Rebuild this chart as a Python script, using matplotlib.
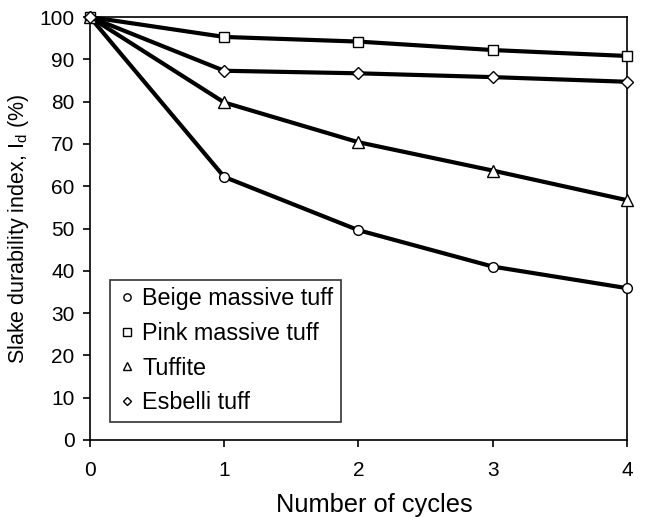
import matplotlib
matplotlib.use("Agg")
import matplotlib.pyplot as plt

plt.rcParams['font.family'] = ['Liberation Sans', 'DejaVu Sans']
plt.rcParams['mathtext.fontset'] = 'custom'
plt.rcParams['mathtext.rm'] = 'Liberation Sans'

cycles = [0, 1, 2, 3, 4]
beige = [100, 62.2, 49.6, 41.0, 35.9]
pink = [100, 95.3, 94.2, 92.2, 90.8]
tuffite = [100, 79.8, 70.4, 63.7, 56.7]
esbelli = [100, 87.3, 86.7, 85.8, 84.7]
labels = ['Beige massive tuff', 'Pink massive tuff', 'Tuffite', 'Esbelli tuff']
markers = ['o', 's', '^', 'D']

fig = plt.figure(figsize=(6.45, 5.17), dpi=100)
ax = fig.add_axes([0.1395, 0.149, 0.8325, 0.818])

sizes = [7, 7, 8, 6]
for ys, lab, m, s in zip([beige, pink, tuffite, esbelli], labels, markers, sizes):
    ax.plot(cycles, ys, color='black', lw=3, marker=m, markersize=s,
            markerfacecolor='white', markeredgecolor='black', markeredgewidth=1.0,
            label=lab, clip_on=False, zorder=3)

ax.set_xlim(0, 4)
ax.set_ylim(0, 100)
ax.set_xticks([0, 1, 2, 3, 4])
ax.set_yticks(range(0, 101, 10))
ax.tick_params(direction='out', length=5, width=1.2, labelsize=15, top=False, right=False)
ax.tick_params(axis='x', pad=10)
ax.tick_params(axis='y', pad=6)
for sp in ax.spines.values():
    sp.set_linewidth(1.2)
ax.set_xlabel('Number of cycles', fontsize=18.3)
ax.xaxis.set_label_coords(0.53, -0.125)
ax.set_ylabel(r'Slake durability index, I$_{\rm d}$ (%)', fontsize=15.5, labelpad=6)

leg = ax.legend(loc='lower left', bbox_to_anchor=(0.037, 0.043), borderaxespad=0,
                fontsize=16.8, frameon=True, fancybox=False, edgecolor='black',
                handlelength=0.8, handletextpad=0.27, labelspacing=0.5,
                borderpad=0.32, markerscale=0.75)
leg.get_frame().set_linewidth(1.2)
for h in leg.get_lines():
    h.set_linestyle('none')

fig.savefig('out.png', dpi=100)
